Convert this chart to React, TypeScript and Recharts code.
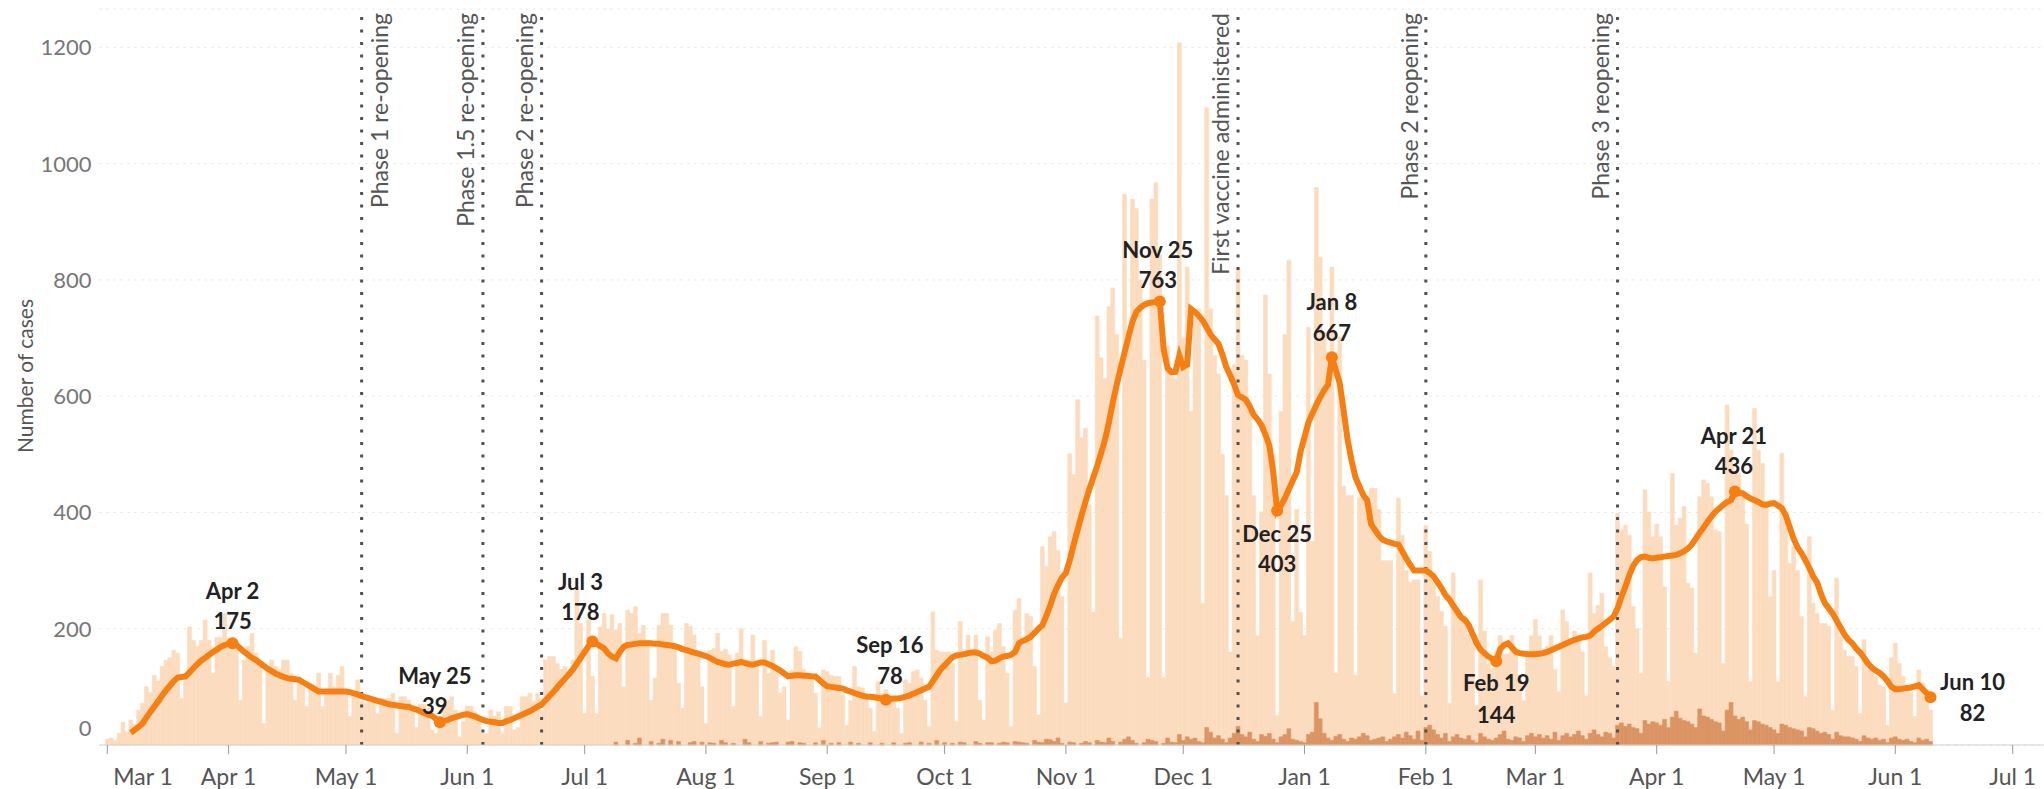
import React from 'react';
import { ComposedChart, Bar, Line, XAxis, YAxis, CartesianGrid, ReferenceLine } from 'recharts';

// ---------- DATA ----------
// Daily new cases (light bars)
const casesMar20 = [10, 12, 8, 20, 39, 22, 43, 35, 60, 72, 100, 90, 120, 110, 135, 146, 150, 163, 158, 80, 120, 203, 180, 170, 180, 215, 180, 123, 185, 185, 226];
const casesApr20 = [183, 175, 175, 77, 146, 170, 192, 158, 140, 37, 135, 146, 135, 130, 146, 146, 123, 77, 117, 100, 66, 105, 95, 123, 66, 90, 123, 100, 120, 135];
const casesMay20 = [95, 49, 85, 112, 75, 72, 75, 77, 54, 80, 80, 80, 89, 20, 83, 83, 77, 60, 30, 70, 70, 63, 26, 20, 45, 66, 77, 83, 60, 14, 40];
const casesJun20 = [67, 67, 57, 45, 20, 20, 60, 50, 57, 20, 66, 66, 26, 30, 83, 83, 89, 75, 89, 60, 146, 152, 152, 140, 130, 135, 110, 146, 272, 209];
const casesJul20 = [54, 215, 118, 54, 203, 226, 200, 224, 198, 209, 100, 232, 226, 238, 192, 206, 180, 77, 115, 206, 226, 226, 206, 168, 106, 63, 209, 204, 189, 155, 100];
const casesAug20 = [37, 163, 166, 192, 161, 165, 155, 66, 158, 200, 146, 146, 189, 135, 49, 180, 123, 163, 129, 89, 100, 43, 129, 169, 161, 130, 118, 118, 89, 29, 129];
const casesSep20 = [126, 120, 118, 118, 86, 34, 77, 135, 100, 98, 77, 63, 23, 109, 89, 95, 77, 77, 63, 20, 112, 106, 126, 129, 115, 77, 32, 229, 163, 160];
const casesOct20 = [160, 160, 140, 40, 212, 146, 189, 160, 189, 77, 43, 186, 160, 198, 209, 169, 123, 32, 232, 252, 172, 226, 221, 135, 52, 341, 307, 358, 367, 335, 255];
const casesNov20 = [72, 501, 465, 594, 529, 545, 413, 228, 738, 666, 630, 754, 786, 706, 184, 947, 714, 939, 923, 800, 662, 116, 939, 967, 843, 116, 686, 634, 630, 1208];
const casesDec20 = [700, 822, 574, 734, 750, 244, 1096, 750, 670, 638, 500, 429, 160, 654, 822, 670, 662, 590, 429, 188, 401, 774, 638, 500, 51, 574, 706, 834, 212, 405, 228];
const casesJan21 = [188, 718, 350, 959, 839, 710, 676, 822, 124, 702, 445, 429, 429, 120, 425, 437, 421, 441, 441, 405, 317, 317, 317, 88, 425, 361, 300, 280, 284, 284, 84];
const casesFeb21 = [377, 333, 280, 256, 230, 204, 72, 296, 236, 216, 212, 190, 176, 68, 284, 196, 140, 132, 160, 188, 156, 156, 188, 164, 120, 76, 156, 188];
const casesMar21 = [216, 188, 164, 170, 188, 130, 92, 232, 212, 172, 196, 188, 160, 84, 296, 226, 240, 261, 169, 150, 135, 398, 370, 378, 361, 238, 200, 123, 439, 401, 358];
const casesApr21 = [380, 358, 272, 109, 467, 378, 390, 410, 278, 270, 158, 427, 456, 450, 427, 370, 367, 140, 585, 507, 467, 467, 433, 380, 109, 579, 507, 484, 419, 255];
const casesMay21 = [300, 109, 502, 401, 312, 341, 300, 221, 83, 358, 244, 226, 209, 209, 204, 60, 287, 186, 163, 152, 152, 135, 54, 181, 129, 129, 118, 103, 100, 34, 150];
const casesJun21 = [175, 140, 118, 100, 90, 49, 129, 106, 95, 60];

// 7-day average (orange line)
const avgMar20 = [null, null, null, null, null, null, 21, 26, 31, 37, 47, 57, 66, 75, 85, 94, 102, 110, 116, 117, 118, 125, 132, 139, 145, 150, 155, 160, 164, 169, 172];
const avgApr20 = [174, 175, 172, 166, 160, 155, 150, 146, 141, 136, 131, 127, 123, 120, 117, 115, 114, 113, 112, 108, 104, 100, 96, 92, 92, 92, 92, 92, 92, 92];
const avgMay20 = [92, 91, 89, 87, 84, 82, 80, 78, 76, 74, 72, 70, 69, 68, 67, 66, 66, 63, 61, 58, 55, 52, 50, 45, 39, 41, 43, 46, 48, 50, 52];
const avgJun20 = [53, 51, 49, 46, 43, 41, 40, 39, 38, 38, 41, 43, 46, 49, 52, 55, 58, 62, 66, 70, 77, 84, 91, 99, 107, 114, 122, 130, 140, 150];
const avgJul20 = [160, 170, 178, 174, 170, 166, 157, 152, 149, 160, 169, 172, 173, 174, 175, 175, 175, 175, 174, 174, 173, 172, 171, 170, 168, 165, 163, 161, 159, 157, 155];
const avgAug20 = [153, 150, 146, 143, 141, 139, 138, 140, 141, 143, 141, 139, 138, 140, 142, 142, 139, 136, 132, 128, 123, 118, 119, 120, 120, 119, 119, 118, 118, 112, 106];
const avgSep20 = [101, 100, 99, 98, 97, 94, 92, 89, 87, 85, 83, 83, 82, 81, 80, 78, 79, 80, 80, 81, 83, 85, 88, 91, 94, 97, 100, 110, 120, 130];
const avgOct20 = [137, 144, 151, 154, 155, 156, 158, 159, 159, 157, 153, 150, 144, 145, 149, 152, 153, 155, 160, 175, 179, 182, 186, 193, 200, 206, 222, 240, 260, 275, 288];
const avgNov20 = [296, 318, 345, 370, 395, 418, 440, 460, 480, 502, 525, 555, 590, 620, 648, 675, 702, 728, 745, 752, 757, 760, 761, 762, 763, 680, 648, 641, 642, 670];
const avgDec20 = [650, 654, 750, 745, 738, 730, 718, 706, 698, 690, 672, 650, 636, 620, 602, 598, 594, 582, 568, 560, 550, 534, 515, 470, 403, 412, 425, 440, 455, 469, 505];
const avgJan21 = [530, 555, 570, 585, 598, 610, 620, 667, 645, 622, 575, 525, 490, 461, 445, 430, 421, 380, 370, 360, 353, 350, 348, 346, 345, 333, 321, 310, 300, 300, 300];
const avgFeb21 = [300, 296, 290, 280, 270, 258, 250, 240, 230, 220, 215, 206, 190, 175, 164, 158, 152, 148, 144, 165, 172, 175, 168, 160, 158, 157, 156, 156];
const avgMar21 = [156, 157, 158, 160, 163, 166, 169, 172, 175, 178, 181, 183, 185, 186, 188, 195, 200, 205, 210, 215, 221, 235, 255, 272, 292, 308, 318, 323, 324, 322, 321];
const avgApr21 = [322, 323, 324, 325, 326, 327, 330, 333, 338, 345, 355, 365, 374, 384, 393, 401, 407, 413, 418, 421, 436, 434, 433, 428, 424, 421, 418, 414, 413, 415];
const avgMay21 = [416, 412, 407, 395, 375, 355, 340, 330, 318, 305, 290, 280, 260, 244, 235, 226, 214, 202, 190, 181, 175, 166, 159, 150, 140, 133, 128, 124, 118, 110, 100];
const avgJun21 = [96, 96, 97, 98, 99, 101, 103, 96, 89, 82];

// Second (darker) daily series
const otherJul20 = [0, 0, 0, 0, 0, 0, 0, 0, 5, 0, 0, 8, 0, 3, 12, 0, 0, 6, 0, 3, 10, 0, 8, 0, 6, 0, 0, 4, 6, 0, 5];
const otherAug20 = [0, 4, 3, 0, 8, 4, 0, 3, 0, 0, 10, 4, 0, 0, 6, 0, 3, 4, 5, 0, 0, 5, 6, 0, 4, 3, 0, 0, 4, 0, 8];
const otherSep20 = [0, 3, 0, 4, 0, 0, 5, 0, 3, 0, 0, 4, 0, 0, 3, 0, 0, 4, 0, 0, 3, 4, 0, 0, 5, 0, 3, 0, 8, 0];
const otherOct20 = [4, 0, 3, 0, 5, 4, 0, 0, 6, 3, 0, 4, 4, 0, 3, 5, 4, 0, 6, 5, 4, 3, 0, 8, 5, 4, 10, 9, 6, 12, 3];
const otherNov20 = [0, 5, 4, 0, 3, 6, 4, 0, 8, 5, 4, 12, 6, 0, 5, 10, 14, 8, 3, 0, 4, 10, 8, 6, 0, 3, 12, 5, 4, 18];
const otherDec20 = [8, 14, 10, 12, 6, 4, 30, 22, 12, 16, 10, 4, 12, 20, 32, 18, 14, 22, 10, 6, 18, 15, 20, 10, 4, 14, 18, 28, 10, 8, 6];
const otherJan21 = [4, 18, 22, 73, 45, 20, 12, 8, 15, 18, 10, 6, 12, 10, 14, 20, 16, 8, 10, 12, 14, 6, 10, 14, 18, 12, 22, 16, 10, 24, 8];
const otherFeb21 = [30, 34, 26, 18, 12, 20, 6, 14, 18, 12, 10, 16, 8, 4, 20, 14, 10, 8, 12, 18, 24, 10, 8, 14, 12, 6, 16, 20];
const otherMar21 = [14, 18, 12, 16, 10, 22, 8, 16, 20, 14, 18, 24, 16, 10, 20, 26, 18, 14, 22, 20, 12, 34, 38, 32, 36, 30, 28, 20, 42, 36, 40];
const otherApr21 = [38, 34, 44, 30, 48, 58, 46, 42, 40, 36, 30, 62, 50, 48, 44, 40, 38, 24, 60, 73, 50, 44, 48, 40, 26, 42, 40, 36, 34, 30];
const otherMay21 = [26, 20, 36, 34, 30, 28, 26, 24, 14, 30, 28, 24, 20, 22, 18, 10, 22, 16, 14, 14, 12, 10, 6, 16, 12, 10, 12, 8, 10, 4, 12];
const otherJun21 = [14, 10, 8, 10, 6, 4, 12, 8, 10, 6];

// month start -> arrays
const months: [string, (number | null)[], (number | null)[], number[]][] = [
  ['2020-03-01', casesMar20, avgMar20, []],
  ['2020-04-01', casesApr20, avgApr20, []],
  ['2020-05-01', casesMay20, avgMay20, []],
  ['2020-06-01', casesJun20, avgJun20, []],
  ['2020-07-01', casesJul20, avgJul20, otherJul20],
  ['2020-08-01', casesAug20, avgAug20, otherAug20],
  ['2020-09-01', casesSep20, avgSep20, otherSep20],
  ['2020-10-01', casesOct20, avgOct20, otherOct20],
  ['2020-11-01', casesNov20, avgNov20, otherNov20],
  ['2020-12-01', casesDec20, avgDec20, otherDec20],
  ['2021-01-01', casesJan21, avgJan21, otherJan21],
  ['2021-02-01', casesFeb21, avgFeb21, otherFeb21],
  ['2021-03-01', casesMar21, avgMar21, otherMar21],
  ['2021-04-01', casesApr21, avgApr21, otherApr21],
  ['2021-05-01', casesMay21, avgMay21, otherMay21],
  ['2021-06-01', casesJun21, avgJun21, otherJun21],
];

// x-axis ticks
const tickDates = ['2020-03-01', '2020-04-01', '2020-05-01', '2020-06-01', '2020-07-01', '2020-08-01', '2020-09-01', '2020-10-01', '2020-11-01', '2020-12-01', '2021-01-01', '2021-02-01', '2021-03-01', '2021-04-01', '2021-05-01', '2021-06-01', '2021-07-01'];
const tickLabels = ['Mar 1', 'Apr 1', 'May 1', 'Jun 1', 'Jul 1', 'Aug 1', 'Sep 1', 'Oct 1', 'Nov 1', 'Dec 1', 'Jan 1', 'Feb 1', 'Mar 1', 'Apr 1', 'May 1', 'Jun 1', 'Jul 1'];
const yTicks = [0, 200, 400, 600, 800, 1000, 1200];

// events (vertical dotted lines)
const eventDates = ['2020-05-05', '2020-06-05', '2020-06-20', '2020-12-15', '2021-02-01', '2021-03-22'];
const eventLabels = ['Phase 1 re-opening', 'Phase 1.5 re-opening', 'Phase 2 re-opening', 'First vaccine administered', 'Phase 2 reopening', 'Phase 3 reopening'];

// annotated points of the average line
const annotationDates = ['2020-04-02', '2020-05-25', '2020-07-03', '2020-09-16', '2020-11-25', '2020-12-25', '2021-01-08', '2021-02-19', '2021-04-21', '2021-06-10'];

// ---------- helpers / styling ----------
const START = Date.UTC(2020, 2, 1);
const dayOf = (iso: string) => Math.round((Date.parse(iso + 'T00:00:00Z') - START) / 86400000);
const MONTHS = ['Jan', 'Feb', 'Mar', 'Apr', 'May', 'Jun', 'Jul', 'Aug', 'Sep', 'Oct', 'Nov', 'Dec'];
const dayLabel = (d: number) => {
  const dt = new Date(START + d * 86400000);
  return `${MONTHS[dt.getUTCMonth()]} ${dt.getUTCDate()}`;
};

const data: { day: number; cases: number | null; avg: number | null; other: number | null }[] = [];
months.forEach(([start, c, a, o]) => {
  const s = dayOf(start);
  c.forEach((v, i) => {
    data.push({ day: s + i, cases: v, avg: a[i] ?? null, other: o.length ? o[i] ?? null : null });
  });
});

const tickDays = tickDates.map(dayOf);
const eventDays = eventDates.map(dayOf);
const annotationDays = annotationDates.map(dayOf);

// label placement style for each annotation (dx, dy of 1st and 2nd line centers)
const annotationPlacement: [number, number, number][] = [
  [0, -53, -23],
  [-5, -47, -17],
  [-12, -60, -30],
  [4, -55, -24],
  [-2, -52, -22],
  [0, 23, 53],
  [0, -56, -25],
  [0, 21, 53],
  [-1, -56, -26],
  [42, -16, 15],
];
// side of event label relative to the line (center x offset)
const eventLabelOffset = [17, -18, -17.5, -18, -16.7, -18];

const FONT = 'Lato, "Open Sans", sans-serif';
const BAR_LIGHT = '#FCDCBE';
const BAR_DARK = '#DB9463';
const LINE = '#F77F12';

const YTick = (props: any) => {
  const { y, payload } = props;
  const v = payload.value;
  const by = v === 0 ? y - 9 : y + 8;
  return (
    <text x={91.5} y={by} textAnchor="end" fill="#777" fontSize={22} fontFamily={FONT}>
      {v}
    </text>
  );
};

const XTick = (props: any) => {
  const { x, payload } = props;
  const idx = tickDays.indexOf(payload.value);
  const first = idx === 0;
  return (
    <text x={first ? x + 6 : x} y={785} textAnchor={first ? 'start' : 'middle'} fill="#555" fontSize={23} fontFamily={FONT}>
      {tickLabels[idx]}
    </text>
  );
};

const renderDot = (props: any) => {
  const { cx, cy, payload, index } = props;
  const k = annotationDays.indexOf(payload?.day);
  if (k < 0 || cy == null || isNaN(cy)) return <g key={`d${index}`} />;
  const [dx, dy1, dy2] = annotationPlacement[k];
  return (
    <g key={`d${index}`}>
      <circle cx={cx} cy={cy} r={6} fill={LINE} />
      <text x={cx + dx} y={cy + dy1} textAnchor="middle" dominantBaseline="central" fontSize={22} fontWeight={700} fill="#222" fontFamily={FONT}>
        {dayLabel(payload.day)}
      </text>
      <text x={cx + dx} y={cy + dy2} textAnchor="middle" dominantBaseline="central" fontSize={22} fontWeight={700} fill="#222" fontFamily={FONT}>
        {payload.avg}
      </text>
    </g>
  );
};

const makeEventLabel = (i: number) => (props: any) => {
  const vb = props.viewBox || {};
  const cx = (vb.x ?? 0) + eventLabelOffset[i];
  const ty = 13;
  return (
    <text
      x={cx}
      y={ty}
      transform={`rotate(-90 ${cx} ${ty})`}
      textAnchor="end"
      dominantBaseline="central"
      fontSize={23}
      fill="#555"
      fontFamily={FONT}
    >
      {eventLabels[i]}
    </text>
  );
};

export default function App() {
  return (
    <div style={{ position: 'absolute', left: 0, top: 0, width: 2044, height: 789, background: '#fff', overflow: 'hidden' }}>
      <ComposedChart
        width={2044}
        height={789}
        data={data}
        margin={{ top: 9, right: 0, bottom: 0, left: 0 }}
        barGap={-3.9}
        barCategoryGap={0}
      >
        <CartesianGrid vertical={false} stroke="#e2e2e2" strokeDasharray="2 5" />
        <XAxis
          dataKey="day"
          type="number"
          domain={[-2, 495]}
          ticks={tickDays}
          interval={0}
          height={44}
          tick={<XTick />}
          tickSize={9}
          tickLine={{ stroke: '#999' }}
          axisLine={{ stroke: '#d0d0d0' }}
        />
        <YAxis
          type="number"
          domain={[0, 1266]}
          ticks={yTicks}
          width={99.5}
          axisLine={false}
          tickLine={false}
          tick={<YTick />}
          label={{
            content: () => (
              <text x={24.5} y={376} transform="rotate(-90 24.5 376)" textAnchor="middle" dominantBaseline="central" fontSize={21} fill="#555" fontFamily={FONT}>
                Number of cases
              </text>
            ),
          }}
        />
        <Bar dataKey="cases" fill={BAR_LIGHT} stroke={BAR_LIGHT} strokeWidth={0.6} barSize={3.9} isAnimationActive={false} />
        <Bar dataKey="other" fill={BAR_DARK} stroke={BAR_DARK} strokeWidth={0.6} barSize={3.9} isAnimationActive={false} />
        {eventDays.map((d, i) => (
          <ReferenceLine key={i} x={d} stroke="#505050" strokeWidth={3} strokeDasharray="3 9.5" label={makeEventLabel(i)} />
        ))}
        <Line
          dataKey="avg"
          type="linear"
          stroke={LINE}
          strokeWidth={6}
          dot={renderDot}
          activeDot={false}
          isAnimationActive={false}
          connectNulls={false}
        />
      </ComposedChart>
    </div>
  );
}
